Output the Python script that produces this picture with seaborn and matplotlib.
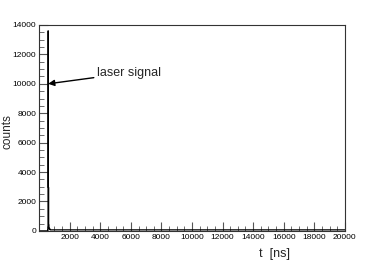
import seaborn as sns
import matplotlib.pyplot as plt
import numpy as np
import pandas as pd
from matplotlib.ticker import MultipleLocator

# histogram: bin width 20 ns, 0..20000 ns; only filled bins listed
bin_width = 20
x_min, x_max = 0, 20000
filled_t = [590, 610, 630, 650, 670, 690, 710]
filled_counts = [13600, 2950, 400, 200, 150, 120, 100]
base_level = 70

edges = np.arange(x_min, x_max + bin_width, bin_width)
centers = edges[:-1] + bin_width / 2
counts = np.full(len(centers), base_level, dtype=float)
counts[centers < 560] = 0
for t, c in zip(filled_t, filled_counts):
    counts[np.argmin(np.abs(centers - t))] = c

df = pd.DataFrame({'t': centers, 'counts': counts})

sns.set_style('ticks')
plt.rcParams['font.family'] = ['Liberation Sans', 'DejaVu Sans']

fig = plt.figure(figsize=(3.84, 2.6), dpi=100)
ax = fig.add_axes([0.102, 0.112, 0.796, 0.792])

sns.histplot(data=df, x='t', weights='counts', binwidth=bin_width,
             binrange=(x_min, x_max), element='step',
             fill=False, color='black', linewidth=0.9, ax=ax)

ax.set_xlim(x_min, x_max)
ax.set_ylim(0, 14000)
ax.xaxis.set_major_locator(MultipleLocator(2000))
ax.xaxis.set_minor_locator(MultipleLocator(500))
ax.yaxis.set_major_locator(MultipleLocator(2000))
ax.yaxis.set_minor_locator(MultipleLocator(500))
ax.set_xticks(np.arange(2000, 20001, 2000))
ax.tick_params(which='both', direction='in', top=False, right=False,
               labelsize=6, colors='#555555', labelcolor='black', pad=2)
ax.tick_params(which='major', length=6.5, width=0.8)
ax.tick_params(which='minor', length=3.5, width=0.6)
for s in ax.spines.values():
    s.set_color('#333333')
    s.set_linewidth(0.8)

ax.set_xlabel('t  [ns]', fontsize=9, labelpad=1)
ax.xaxis.set_label_coords(0.77, -0.085)
ax.set_ylabel('counts', fontsize=8.5, labelpad=2)
ax.yaxis.set_label_coords(-0.085, 0.48)

ax.annotate('laser signal', xy=(590, 10000), xytext=(3790, 10740),
            fontsize=9, va='center',
            arrowprops=dict(arrowstyle='-|>', color='black', lw=1.0,
                            mutation_scale=9, shrinkA=0, shrinkB=0))

plt.savefig('out.png', dpi=100)
